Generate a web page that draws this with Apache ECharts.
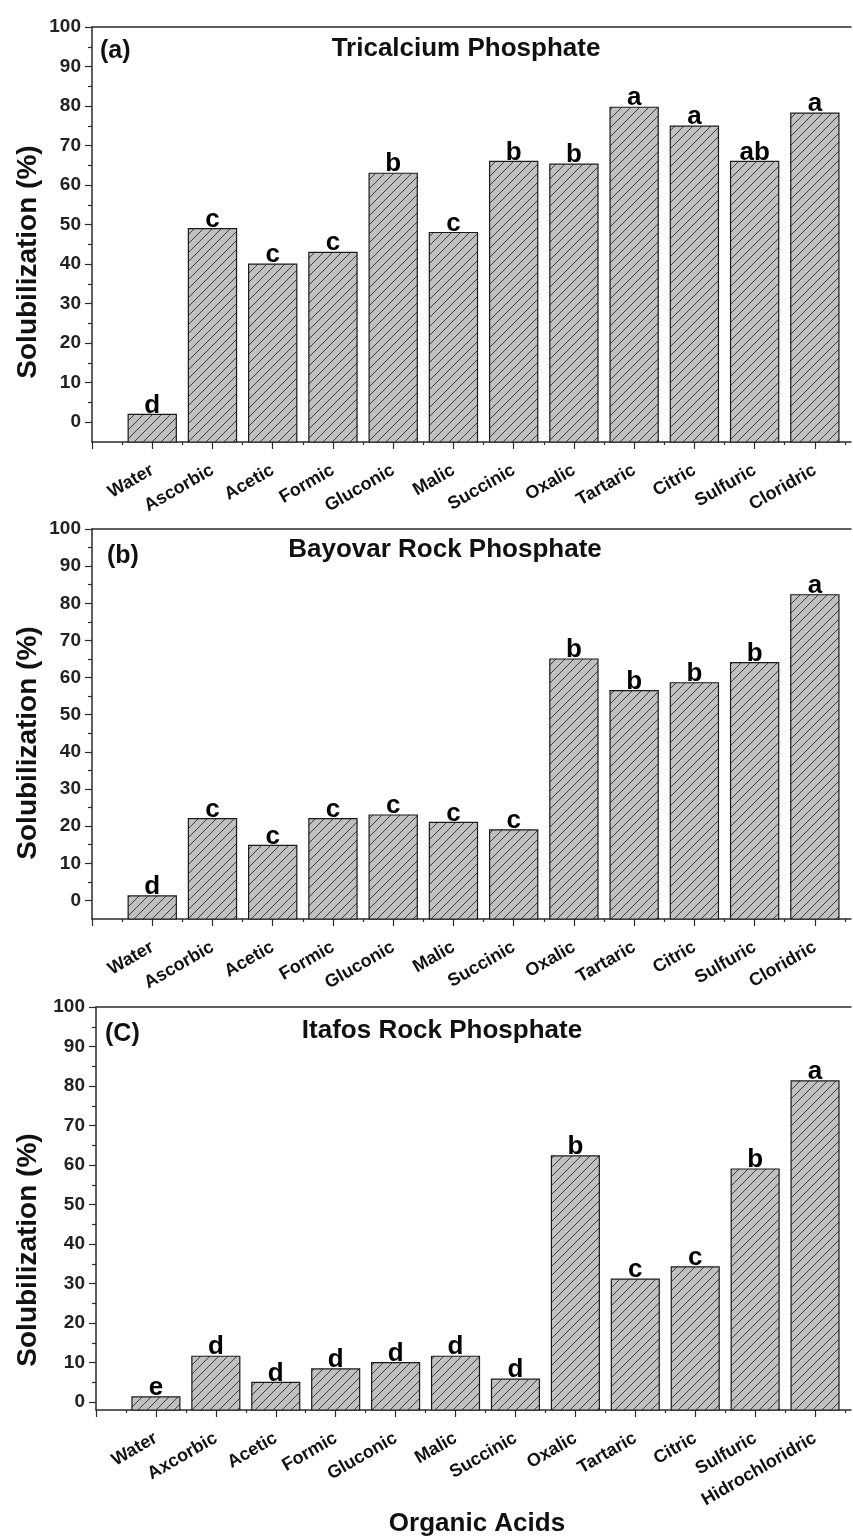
<!DOCTYPE html>
<html>
<head>
<meta charset="utf-8">
<style>
  html, body { margin: 0; padding: 0; background: #fff; }
  #chart { width: 853px; height: 1539px; }
</style>
<script src="https://cdn.jsdelivr.net/npm/echarts@6/dist/echarts.min.js"></script>
</head>
<body>
<div id="chart"></div>
<script>
// categories
const acidsAB = ['Water', 'Ascorbic', 'Acetic', 'Formic', 'Gluconic', 'Malic', 'Succinic', 'Oxalic', 'Tartaric', 'Citric', 'Sulfuric', 'Cloridric']
const acidsC = ['Water', 'Axcorbic', 'Acetic', 'Formic', 'Gluconic', 'Malic', 'Succinic', 'Oxalic', 'Tartaric', 'Citric', 'Sulfuric', 'Hidrochloridric']

// solubilization (%) per panel
const tricalcium = [2.0, 49, 40, 43, 63, 48, 66, 65.3, 79.7, 74.9, 66, 78.2]
const tricalciumLetters = ['d', 'c', 'c', 'c', 'b', 'c', 'b', 'b', 'a', 'a', 'ab', 'a']
const bayovar = [1.2, 22, 14.8, 22, 23, 21, 19, 65, 56.5, 58.6, 64, 82.3]
const bayovarLetters = ['d', 'c', 'c', 'c', 'c', 'c', 'c', 'b', 'b', 'b', 'b', 'a']
const itafos = [1.3, 11.6, 5.0, 8.4, 10, 11.6, 5.8, 62.3, 31.1, 34.2, 59, 81.3]
const itafosLetters = ['e', 'd', 'd', 'd', 'd', 'd', 'd', 'b', 'c', 'c', 'b', 'a']

// ticks
const yTicks = [0, 10, 20, 30, 40, 50, 60, 70, 80, 90, 100]
const yMinorTicks = [5, 15, 25, 35, 45, 55, 65, 75, 85, 95]
const xTicks = [0, 1, 2, 3, 4, 5, 6, 7, 8, 9, 10, 11, 12]
const xMinorTicks = [0.5, 1.5, 2.5, 3.5, 4.5, 5.5, 6.5, 7.5, 8.5, 9.5, 10.5, 11.5, 12.5]
const xLabelTicks = [1, 2, 3, 4, 5, 6, 7, 8, 9, 10, 11, 12]

const FONT = '"Liberation Sans", Arial, sans-serif'
const AXIS_COLOR = '#2b2b2b'

// hatch fill: grey with "///" lines
const hatch = (() => {
  const s = 9
  const c = document.createElement('canvas')
  c.width = c.height = s
  const g = c.getContext('2d')
  g.fillStyle = '#c0c0c0'
  g.fillRect(0, 0, s, s)
  g.strokeStyle = '#2a2a2a'
  g.lineWidth = 0.9
  g.beginPath()
  g.moveTo(-1, s + 1); g.lineTo(s + 1, -1)
  g.moveTo(-1, 1); g.lineTo(1, -1)
  g.moveTo(s - 1, s + 1); g.lineTo(s + 1, s - 1)
  g.stroke()
  return { image: c, repeat: 'repeat' }
})()

const panels = [
  { left: 92, top: 27, height: 415, yMin: -5, names: acidsAB, values: tricalcium, letters: tricalciumLetters,
    tag: '(a)', tagX: 100, tagY: 51, title: 'Tricalcium Phosphate', titleX: 466, titleY: 49, nameY: 262 },
  { left: 92, top: 529, height: 390, yMin: -5, names: acidsAB, values: bayovar, letters: bayovarLetters,
    tag: '(b)', tagX: 107, tagY: 556, title: 'Bayovar Rock Phosphate', titleX: 445, titleY: 550, nameY: 743 },
  { left: 96, top: 1007, height: 403, yMin: -2, names: acidsC, values: itafos, letters: itafosLetters,
    tag: '(C)', tagX: 105, tagY: 1034, title: 'Itafos Rock Phosphate', titleX: 442, titleY: 1031, nameY: 1250 }
]

const grid = [], xAxis = [], yAxis = [], series = [], graphic = []

panels.forEach((p, i) => {
  grid.push({ left: p.left, top: p.top, height: p.height, right: 2 })

  // bottom axis: long ticks + labels
  xAxis.push({
    type: 'value', gridIndex: i, min: 0, max: 12.6, position: 'bottom',
    splitLine: { show: false },
    axisLine: { show: true, onZero: false, lineStyle: { color: AXIS_COLOR, width: 1.5 } },
    axisTick: { show: true, length: 7, customValues: xTicks, lineStyle: { color: AXIS_COLOR, width: 1.2 } },
    axisLabel: {
      show: true, customValues: xLabelTicks, rotate: 30, margin: 27,
      formatter: v => p.names[v - 1] || '',
      color: '#111', fontFamily: FONT, fontWeight: 'bold', fontSize: 18
    }
  })
  // bottom axis: short half ticks
  xAxis.push({
    type: 'value', gridIndex: i, min: 0, max: 12.6, position: 'bottom',
    splitLine: { show: false }, axisLine: { show: false, onZero: false },
    axisTick: { show: true, length: 3, customValues: xMinorTicks, lineStyle: { color: AXIS_COLOR, width: 1.2 } },
    axisLabel: { show: false }
  })
  // top frame line
  xAxis.push({
    type: 'value', gridIndex: i, min: 0, max: 12.6, position: 'top',
    splitLine: { show: false },
    axisLine: { show: true, onZero: false, lineStyle: { color: AXIS_COLOR, width: 1.5 } },
    axisTick: { show: false }, axisLabel: { show: false }
  })

  yAxis.push({
    type: 'value', gridIndex: i, min: p.yMin, max: 100, position: 'left',
    splitLine: { show: false },
    axisLine: { show: true, onZero: false, lineStyle: { color: AXIS_COLOR, width: 1.5 } },
    axisTick: { show: true, length: 7, customValues: yTicks, lineStyle: { color: AXIS_COLOR, width: 1.2 } },
    axisLabel: {
      show: true, customValues: yTicks, margin: 11,
      color: '#222', fontFamily: FONT, fontWeight: 'bold', fontSize: 19
    }
  })
  yAxis.push({
    type: 'value', gridIndex: i, min: p.yMin, max: 100, position: 'left',
    splitLine: { show: false }, axisLine: { show: false, onZero: false },
    axisTick: { show: true, length: 4, customValues: yMinorTicks, lineStyle: { color: AXIS_COLOR, width: 1.2 } },
    axisLabel: { show: false }
  })

  series.push({
    type: 'custom',
    xAxisIndex: i * 3,
    yAxisIndex: i * 2,
    data: p.values.map((v, k) => [k + 1, v]),
    renderItem: (params, api) => {
      const x = api.value(0)
      const top = api.coord([x, api.value(1)])
      const base = api.coord([x, p.yMin])
      const w = api.size([0.8, 0])[0]
      return {
        type: 'group',
        children: [
          {
            type: 'rect',
            shape: { x: top[0] - w / 2, y: top[1], width: w, height: base[1] - top[1] },
            style: { fill: hatch, stroke: '#1a1a1a', lineWidth: 1.2 }
          },
          {
            type: 'text', x: top[0], y: top[1] + 4, z2: 10,
            style: {
              text: p.letters[params.dataIndex], align: 'center', verticalAlign: 'bottom',
              font: 'bold 26px ' + FONT, fill: '#000'
            }
          }
        ]
      }
    }
  })

  graphic.push(
    { type: 'text', x: p.tagX, y: p.tagY,
      style: { text: p.tag, align: 'left', verticalAlign: 'middle', font: 'bold 25px ' + FONT, fill: '#111' } },
    { type: 'text', x: p.titleX, y: p.titleY,
      style: { text: p.title, align: 'center', verticalAlign: 'middle', font: 'bold 26px ' + FONT, fill: '#111' } },
    { type: 'text', x: 28, y: p.nameY, rotation: Math.PI / 2,
      style: { text: 'Solubilization (%)', align: 'center', verticalAlign: 'middle', font: 'bold 28px ' + FONT, fill: '#111' } }
  )
})

graphic.push({
  type: 'text', x: 477, y: 1524,
  style: { text: 'Organic Acids', align: 'center', verticalAlign: 'middle', font: 'bold 26px ' + FONT, fill: '#111' }
})

const chart = echarts.init(document.getElementById('chart'), null, { renderer: 'canvas' })
chart.setOption({
  animation: false,
  backgroundColor: '#fff',
  grid, xAxis, yAxis, series, graphic
})
</script>
</body>
</html>
